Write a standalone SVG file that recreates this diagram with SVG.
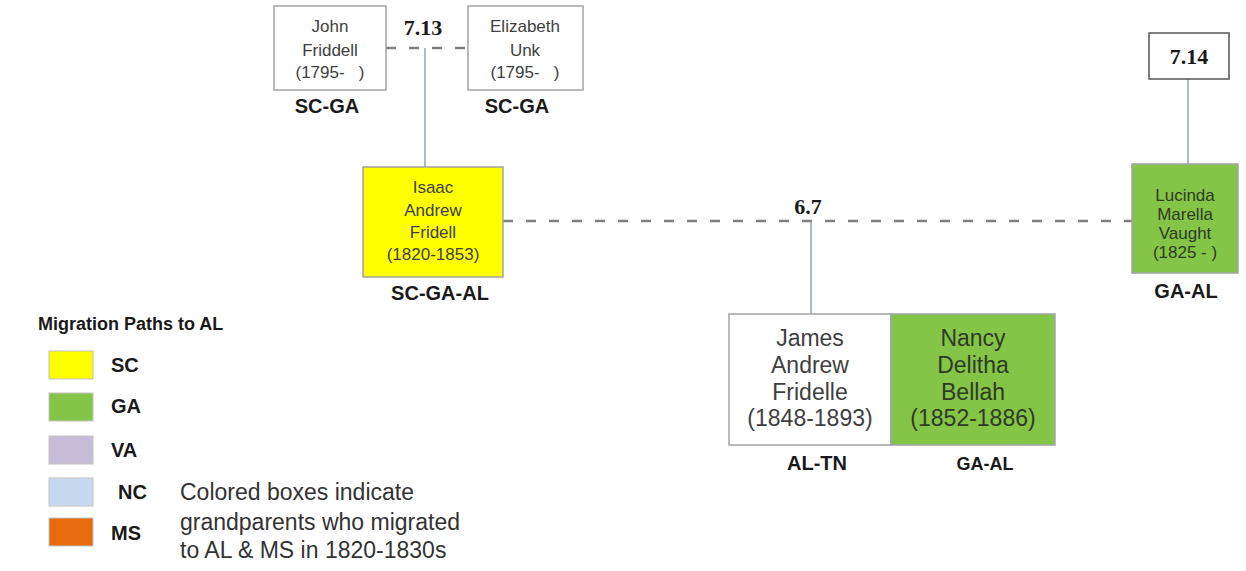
<svg xmlns="http://www.w3.org/2000/svg" width="1246" height="571" viewBox="0 0 1246 571">
<style>
  .box { stroke: #a3a3a3; stroke-width: 1.5; }
  .white { fill: #ffffff; }
  .yellow { fill: #ffff00; }
  .green { fill: #84c548; }
  .t { font-family: "Liberation Sans", Arial, sans-serif; fill: #404040; text-anchor: middle; }
  .tg { font-family: "Liberation Sans", Arial, sans-serif; fill: #2e3b22; text-anchor: middle; }
  .s { font-size: 17px; }
  .l { font-size: 23px; }
  .lab { font-family: "Liberation Sans", Arial, sans-serif; font-weight: bold; fill: #1a1a1a; text-anchor: middle; font-size: 20px; }
  .num { font-family: "Liberation Serif", "Times New Roman", serif; font-weight: bold; fill: #1a1a1a; text-anchor: middle; font-size: 22px; }
  .dash { stroke: #808080; stroke-width: 2.5; stroke-dasharray: 10 13; fill: none; }
  .vl { stroke: #8093ad; stroke-width: 1.3; fill: none; }
  .sw { stroke: #c4c4c4; stroke-width: 1; }
  .leg { font-family: "Liberation Sans", Arial, sans-serif; font-weight: bold; fill: #1a1a1a; font-size: 20px; }
  .note { font-family: "Liberation Sans", Arial, sans-serif; fill: #333333; font-size: 23px; }
</style>
<rect width="1246" height="571" fill="#ffffff"/>

<g id="connectors">
  <line class="dash" x1="386" y1="48" x2="468" y2="48"/>
  <line class="vl" x1="425" y1="48" x2="425" y2="167"/>
  <line class="dash" x1="503" y1="221" x2="1132" y2="221"/>
  <line class="vl" x1="811" y1="221" x2="811" y2="314"/>
  <line class="vl" x1="1188" y1="79" x2="1188" y2="164"/>
</g>

<g id="label-713"><text class="num" x="423" y="35">7.13</text></g>
<g id="label-67"><text class="num" x="808" y="214">6.7</text></g>

<g id="john">
  <rect class="box white" x="274" y="6" width="112" height="84"/>
  <text class="t s" x="330" y="32">John</text>
  <text class="t s" x="330" y="56">Friddell</text>
  <text class="t s" x="330" y="78" xml:space="preserve">(1795-   )</text>
  <text class="lab" x="327" y="113">SC-GA</text>
</g>

<g id="elizabeth">
  <rect class="box white" x="468" y="6" width="115" height="84"/>
  <text class="t s" x="525" y="32">Elizabeth</text>
  <text class="t s" x="525" y="56">Unk</text>
  <text class="t s" x="525" y="78" xml:space="preserve">(1795-   )</text>
  <text class="lab" x="517" y="113">SC-GA</text>
</g>

<g id="isaac">
  <rect class="box yellow" x="363" y="167" width="140" height="110"/>
  <text class="t s" x="433" y="193">Isaac</text>
  <text class="t s" x="433" y="216">Andrew</text>
  <text class="t s" x="433" y="238">Fridell</text>
  <text class="t s" x="433" y="260">(1820-1853)</text>
  <text class="lab" x="440" y="300">SC-GA-AL</text>
</g>

<g id="box714">
  <rect class="box white" x="1149" y="33" width="80" height="46" style="stroke:#555555"/>
  <text class="num" x="1189" y="64">7.14</text>
</g>

<g id="lucinda">
  <rect class="box green" x="1132" y="164" width="106" height="109"/>
  <text class="tg s" x="1185" y="201">Lucinda</text>
  <text class="tg s" x="1185" y="220">Marella</text>
  <text class="tg s" x="1185" y="239">Vaught</text>
  <text class="tg s" x="1185" y="258">(1825 - )</text>
  <text class="lab" x="1186" y="298">GA-AL</text>
</g>

<g id="james">
  <rect class="box white" x="729" y="314" width="162" height="131"/>
  <text class="t l" x="810" y="346">James</text>
  <text class="t l" x="810" y="373">Andrew</text>
  <text class="t l" x="810" y="400">Fridelle</text>
  <text class="t l" x="810" y="426">(1848-1893)</text>
  <text class="lab" x="817" y="470">AL-TN</text>
</g>

<g id="nancy">
  <rect class="box green" x="891" y="314" width="164" height="131"/>
  <text class="tg l" x="973" y="346">Nancy</text>
  <text class="tg l" x="973" y="373">Delitha</text>
  <text class="tg l" x="973" y="400">Bellah</text>
  <text class="tg l" x="973" y="426">(1852-1886)</text>
  <text class="lab" x="985" y="470" style="font-size:18px">GA-AL</text>
</g>

<g id="legend">
  <text class="leg" x="38" y="330" style="font-size:18px">Migration Paths to AL</text>
  <rect class="sw" x="49" y="351" width="44" height="28" fill="#ffff00"/>
  <text class="leg" x="111" y="372">SC</text>
  <rect class="sw" x="49" y="393" width="44" height="28" fill="#84c548"/>
  <text class="leg" x="111" y="413">GA</text>
  <rect class="sw" x="49" y="436" width="44" height="28" fill="#c6bcd8"/>
  <text class="leg" x="111" y="457">VA</text>
  <rect class="sw" x="49" y="478" width="44" height="28" fill="#c7d9ef"/>
  <text class="leg" x="118" y="499">NC</text>
  <rect class="sw" x="49" y="518" width="44" height="28" fill="#e56b0c"/>
  <text class="leg" x="111" y="540">MS</text>
  <text class="note" x="180" y="500">Colored boxes indicate</text>
  <text class="note" x="180" y="530">grandparents who migrated</text>
  <text class="note" x="180" y="558">to AL &amp; MS in 1820-1830s</text>
</g>
</svg>
